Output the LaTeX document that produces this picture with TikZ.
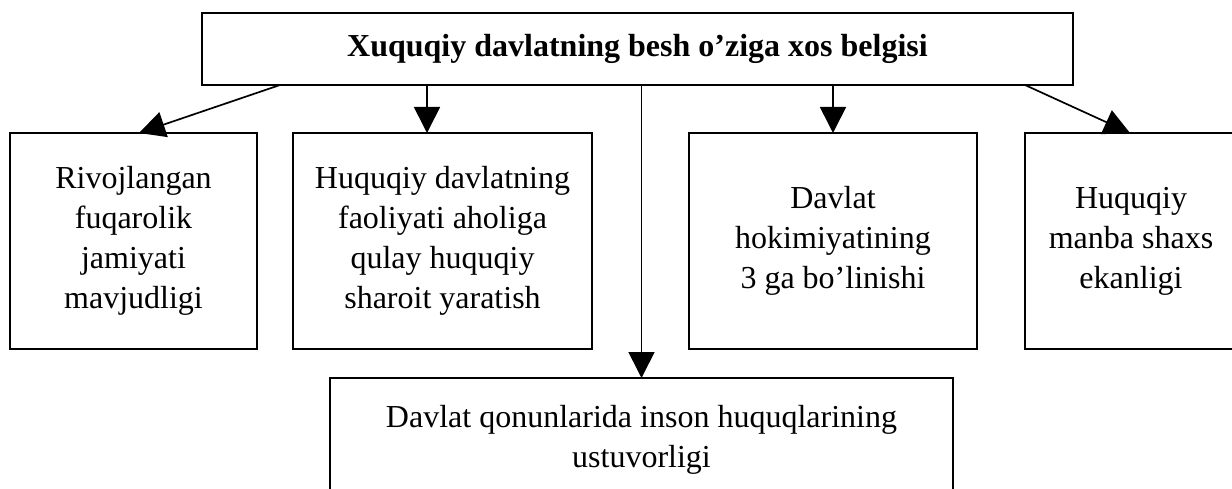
\documentclass[tikz,border=0pt]{standalone}
\usepackage{fontspec}
\setmainfont{Liberation Serif}
\usepackage{tikz}
\usetikzlibrary{
    arrows.meta,
    positioning
}
\tikzset{
    % Feature box
    belgibox/.style={
        rectangle,
        draw=black,
        fill=white,
        line width=1.8pt,
        font=\fontsize{32pt}{40pt}\selectfont,
        align=center,
        inner sep=0pt,
        outer sep=0pt,
        minimum height=216pt
    },
    % Title box
    titlebox/.style={
        belgibox,
        font=\fontsize{32pt}{40pt}\selectfont\bfseries,
        minimum height=72pt
    },
    % Arrow style
    belgiarrow/.style={
        -{Triangle[length=26pt, width=26pt]},
        line width=1.7pt,
        color=black
    }
}
\begin{document}
\begin{tikzpicture}[x=1pt, y=-1pt]

    % Picture frame
    \useasboundingbox (0,0) rectangle (1232,489);
    \clip (0,0) rectangle (1232,489);

    % Title box
    \node[titlebox, minimum width=871pt] (title) at (637.5,49) {Xuquqiy davlatning besh o’ziga xos belgisi};

    % Feature boxes
    \node[belgibox, minimum width=247pt] (jamiyat) at (133.5,241) {Rivojlangan\\fuqarolik\\jamiyati\\mavjudligi};
    \node[belgibox, minimum width=299pt] (sharoit) at (442.5,241) {Huquqiy davlatning\\faoliyati aholiga\\qulay huquqiy\\sharoit yaratish};
    \node[belgibox, minimum width=288pt] (hokimiyat) at (833,241) {Davlat\\hokimiyatining\\3 ga bo’linishi};
    \node[belgibox, minimum width=212pt] (manba) at (1131,241) {Huquqiy\\manba shaxs\\ekanligi};

    % Bottom box
    \node[belgibox, minimum width=623pt, minimum height=123pt] (ustuvor) at (641.5,439.5) {Davlat qonunlarida inson huquqlarining\\ustuvorligi};

    % Arrows
    \draw[belgiarrow] ([xshift=78pt]title.south west) -- ([xshift=5.5pt]jamiyat.north);
    \draw[belgiarrow] ([xshift=-15.5pt]sharoit.north |- title.south) -- ([xshift=-15.5pt]sharoit.north);
    \draw[belgiarrow] (ustuvor.north |- title.south) -- (ustuvor.north);
    \draw[belgiarrow] (hokimiyat.north |- title.south) -- (hokimiyat.north);
    \draw[belgiarrow] ([xshift=-48pt]title.south east) -- ([xshift=-1pt]manba.north);

\end{tikzpicture}
\end{document}
